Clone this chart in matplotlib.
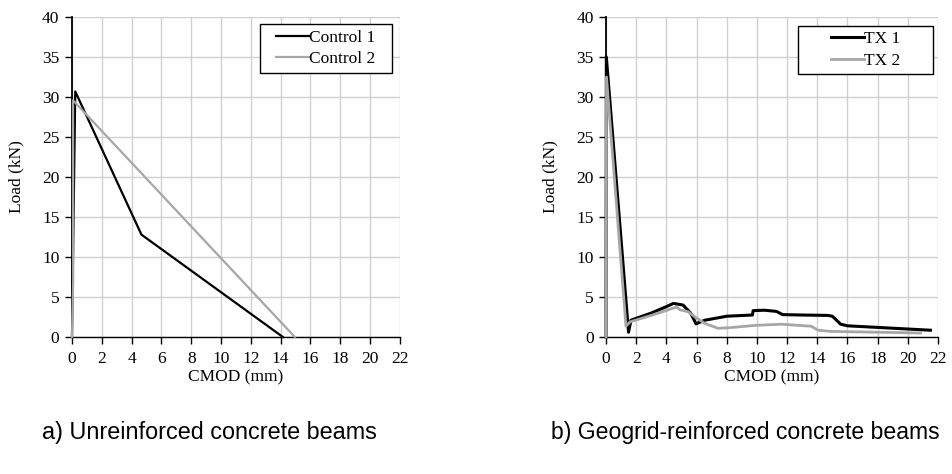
import matplotlib.pyplot as plt
from matplotlib.patches import Rectangle

# Control beams (unreinforced)
c1_x = [0.0, 0.05, 0.22, 4.66, 14.15]
c1_y = [0.0, 7.0, 30.7, 12.8, 0.0]
c2_x = [0.0, 0.08, 0.07, 14.95]
c2_y = [0.0, 7.0, 29.6, 0.0]

# Geogrid-reinforced beams
tx1_x = [0.0, 0.0, 0.02, 1.49, 1.65, 3.0, 4.0, 4.46, 5.1, 5.6, 5.9, 5.96, 6.55, 8.0,
         9.7, 9.75, 10.5, 11.3, 11.5, 11.7, 13.0, 14.7, 15.0, 15.55, 16.0, 18.0,
         20.0, 21.5]
tx1_y = [0.0, 5.5, 35.0, 0.6, 2.1, 3.0, 3.8, 4.2, 4.0, 3.0, 1.9, 1.65, 2.1, 2.6,
         2.75, 3.3, 3.35, 3.2, 3.0, 2.8, 2.75, 2.7, 2.6, 1.6, 1.4, 1.2,
         1.0, 0.85]
tx2_x = [0.0, 0.03, 1.32, 1.6, 3.0, 4.68, 4.9, 5.45, 5.9, 6.55, 7.4, 8.1, 9.85,
         11.6, 13.6, 14.05, 14.9, 18.0, 20.85]
tx2_y = [0.0, 32.5, 1.35, 1.9, 2.7, 3.75, 3.4, 3.15, 2.5, 1.7, 1.1, 1.15, 1.45,
         1.6, 1.35, 0.85, 0.7, 0.6, 0.5]

xticks = list(range(0, 23, 2))
yticks = list(range(0, 41, 5))

serif = 'Liberation Serif'

fig = plt.figure(figsize=(9.52, 4.74), dpi=100)
ax1 = fig.add_axes([0.0756, 0.289, 0.3445, 0.675])
ax2 = fig.add_axes([0.6366, 0.289, 0.3487, 0.675])


def style(ax):
    ax.set_xlim(0, 22)
    ax.set_ylim(0, 40)
    ax.set_xticks(xticks)
    ax.set_yticks(yticks)
    ax.grid(True, color='#d0d0d0', lw=1.0)
    ax.set_axisbelow(True)
    for s in ['top', 'right']:
        ax.spines[s].set_visible(False)
    ax.spines['left'].set_linewidth(1.3)
    ax.spines['bottom'].set_linewidth(1.0)
    ax.tick_params(direction='out', length=5, width=1, labelsize=12.5)
    ax.tick_params(axis='x', pad=5)
    ax.tick_params(axis='y', pad=4)
    for lab in ax.get_xticklabels() + ax.get_yticklabels():
        lab.set_fontfamily(serif)
    ax.set_xlabel('CMOD (mm)', fontfamily=serif, fontsize=12.5, labelpad=2)
    ax.set_ylabel('Load (kN)', fontfamily=serif, fontsize=12.5, labelpad=13)


ax1.plot(c1_x, c1_y, color='black', lw=1.6, label='Control 1', clip_on=False, zorder=3)
ax1.plot(c2_x, c2_y, color='#a6a6a6', lw=1.6, label='Control 2', clip_on=False, zorder=3)
style(ax1)

ax2.plot(tx1_x, tx1_y, color='black', lw=2.2, label='TX 1', clip_on=False, zorder=3)
ax2.plot(tx2_x, tx2_y, color='#a6a6a6', lw=2.0, label='TX 2', clip_on=False, zorder=3)
style(ax2)

# legend boxes (axes fraction): x0, x1, y0, y1
boxes = [(0.573, 0.976, 0.825, 0.978), (0.578, 0.985, 0.822, 0.972)]
for ax, (x0, x1, y0, y1) in zip((ax1, ax2), boxes):
    ax.add_patch(Rectangle((x0, y0), x1 - x0, y1 - y0, transform=ax.transAxes,
                           facecolor='white', edgecolor='black', lw=1.0, zorder=4.5))
    ax.legend(loc='center', bbox_to_anchor=((x0 + x1) / 2, (y0 + y1) / 2),
              prop={'family': serif, 'size': 12.5}, frameon=False,
              handlelength=1.9, handletextpad=0.0, borderpad=0.0,
              labelspacing=0.3)

fig.text(0.0441, 0.087, 'a) Unreinforced concrete beams', fontfamily='Liberation Sans',
         fontsize=16.8, ha='left', va='center')
fig.text(0.5788, 0.087, 'b) Geogrid-reinforced concrete beams', fontfamily='Liberation Sans',
         fontsize=16.6, ha='left', va='center')

fig.savefig('out.png', dpi=100)
